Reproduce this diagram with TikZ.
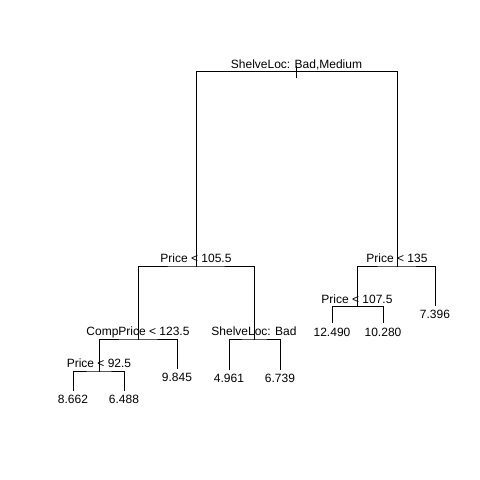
\documentclass[tikz,border=0pt]{standalone}
\usepackage{fontspec}
\setmainfont{Liberation Sans}
\begin{document}
\begin{tikzpicture}[x=1pt, y=-1pt]
        \tikzset{branch/.style={line width=1pt, line cap=rect}, splitlab/.style={anchor=base, inner sep=0pt, font=\fontsize{12}{14}\selectfont}, leaflab/.style={anchor=base, inner sep=0pt, font=\fontsize{12}{14}\selectfont}}
        \useasboundingbox[fill=white] (0,0) rectangle (480,480);
        % split points
        \coordinate (n1) at (296.5,71.5);
        \coordinate (n2) at (196,266);
        \coordinate (n3) at (397,266);
        \coordinate (n4) at (138,339);
        \coordinate (n5) at (254,339);
        \coordinate (n6) at (357,306.5);
        \coordinate (n8) at (99,371);
        % leaf ends
        \coordinate (l1) at (73,390);
        \coordinate (l2) at (124,390);
        \coordinate (l3) at (177,368);
        \coordinate (l4) at (229,369);
        \coordinate (l5) at (280,369);
        \coordinate (l6) at (332,322.5);
        \coordinate (l7) at (383,322.5);
        \coordinate (l8) at (435,305);
        % branches
        \draw[branch] ([yshift=5pt]n1) -- ([yshift=-5.5pt]n1);
        \draw[branch] (n2) |- (n1) -| (n3);
        \draw[branch] (n4) |- (n2) -| (n5);
        \draw[branch] (n6) |- (n3) -| (l8);
        \draw[branch] (n8) |- (n4) -| (l3);
        \draw[branch] (l4) |- (n5) -| (l5);
        \draw[branch] (l6) |- (n6) -| (l7);
        \draw[branch] (l1) |- (n8) -| (l2);
        % split labels
        \node[splitlab] (s1) at ([yshift=3.5pt]n1) {ShelveLoc: Bad,Medium};
        \node[splitlab] (s2) at ([yshift=3.5pt]n2) {Price < 105.5};
        \node[splitlab] (s3) at ([yshift=3.5pt]n3) {Price < 135};
        \node[splitlab] (s4) at ([yshift=3.5pt]n4) {CompPrice < 123.5};
        \node[splitlab] (s5) at ([yshift=3.5pt]n5) {ShelveLoc: Bad};
        \node[splitlab] (s6) at ([yshift=3.5pt]n6) {Price < 107.5};
        \node[splitlab] (s8) at ([yshift=3.5pt]n8) {Price < 92.5};
        % leaf values
        \node[leaflab] (v1) at ([yshift=-13.5pt]l1) {8.662};
        \node[leaflab] (v2) at ([yshift=-13.5pt]l2) {6.488};
        \node[leaflab] (v3) at ([yshift=-13.5pt]l3) {9.845};
        \node[leaflab] (v4) at ([yshift=-13.5pt]l4) {4.961};
        \node[leaflab] (v5) at ([yshift=-13.5pt]l5) {6.739};
        \node[leaflab] (v6) at ([yshift=-13.5pt]l6) {12.490};
        \node[leaflab] (v7) at ([yshift=-13.5pt]l7) {10.280};
        \node[leaflab] (v8) at ([yshift=-13.5pt]l8) {7.396};
    \end{tikzpicture}
\end{document}
